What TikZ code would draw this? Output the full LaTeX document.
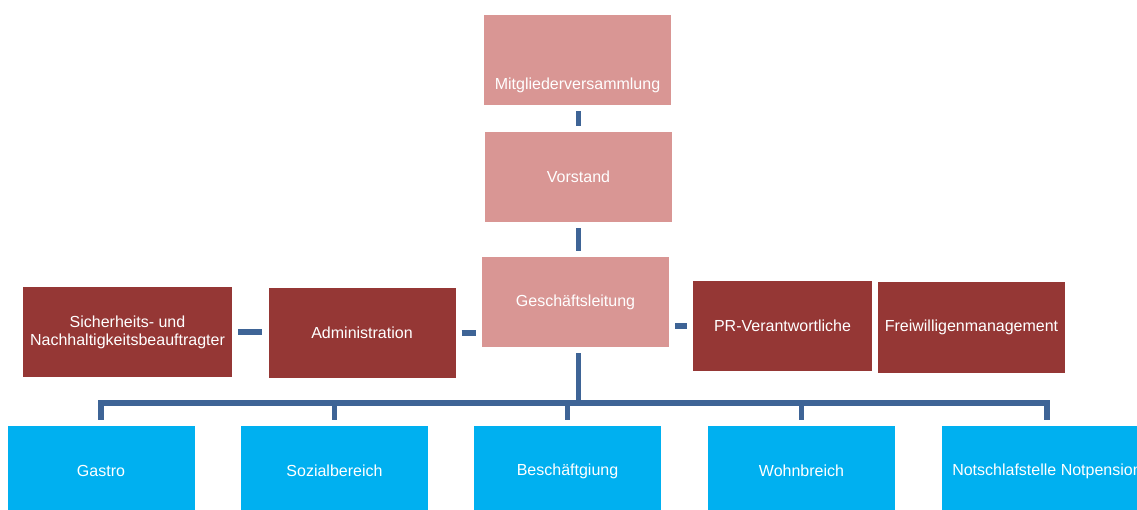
\documentclass[tikz,border=0pt]{standalone}
\usepackage{fontspec}
\setmainfont{Liberation Sans}
\definecolor{rosa}{RGB}{217,150,148}
\definecolor{dunkelrot}{RGB}{149,55,53}
\definecolor{cyanblau}{RGB}{0,176,240}
\definecolor{linie}{RGB}{62,100,150}
\begin{document}
\begin{tikzpicture}[x=1pt, y=-1pt]
 \tikzset{
  box/.style={rectangle, minimum width=187pt, minimum height=90pt, inner sep=2pt,
              text=white, font=\fontsize{16}{18}\selectfont, align=center},
  top/.style={box, fill=rosa},
  side/.style={box, fill=dunkelrot},
  unit/.style={box, fill=cyanblau},
  con/.style={draw=linie, line width=5.5pt, shorten >=6pt, shorten <=6pt}
 }
 \useasboundingbox (0,0) rectangle (1137,510);
 \clip (0,0) rectangle (1137,510);

 % Leitung
 \node [top, text height=60pt, text depth=0pt] (mv) at (577.5,60) {Mitgliederversammlung};
 \node [top] (vs) at (578.5,177) {Vorstand};
 \node [top] (gl) at (575.5,302) {Geschäftsleitung};

 % Stabsstellen
 \node [side, minimum width=209pt] (sn) at (127.5,332) {Sicherheits- und\\Nachhaltigkeitsbeauftragter};
 \node [side] (adm) at (362,333) {Administration};
 \node [side, minimum width=179pt] (pr) at (782.5,326) {PR-Verantwortliche};
 \node [side] (fw) at (971.5,327.5) {Freiwilligenmanagement};

 % Bereiche
 \foreach \x/\w/\txt [count=\i] in {101/187/Gastro, 334.5/187/Sozialbereich,
                                     567.5/187/Beschäftgiung, 801.5/187/Wohnbreich,
                                     1047/210/Notschlafstelle Notpension}
  { \node [unit, minimum width=\w pt] (u\i) at (\x,471) {\txt}; }

 \draw [con] (vs.north) -- (vs.north |- mv.south);
 \draw [con] (vs.south) -- (vs.south |- gl.north);
 \draw [con] (sn.east) -- (sn.east -| adm.west);
 \draw [con] (adm.east) -- (adm.east -| gl.west);
 \draw [con] (pr.west) -- (pr.west -| gl.east);

 \coordinate (bus) at (vs.south |- 0,403);
 \draw [con, shorten >=0pt] (gl.south -| bus) -- (bus);
 \draw [con] (u1.north) -- (u1.north |- bus) -- (u5.north |- bus) -- (u5.north);
 \foreach \i in {2,3,4} { \draw [con, shorten >=0pt] (u\i.north) -- (u\i.north |- bus); }
\end{tikzpicture}
\end{document}
